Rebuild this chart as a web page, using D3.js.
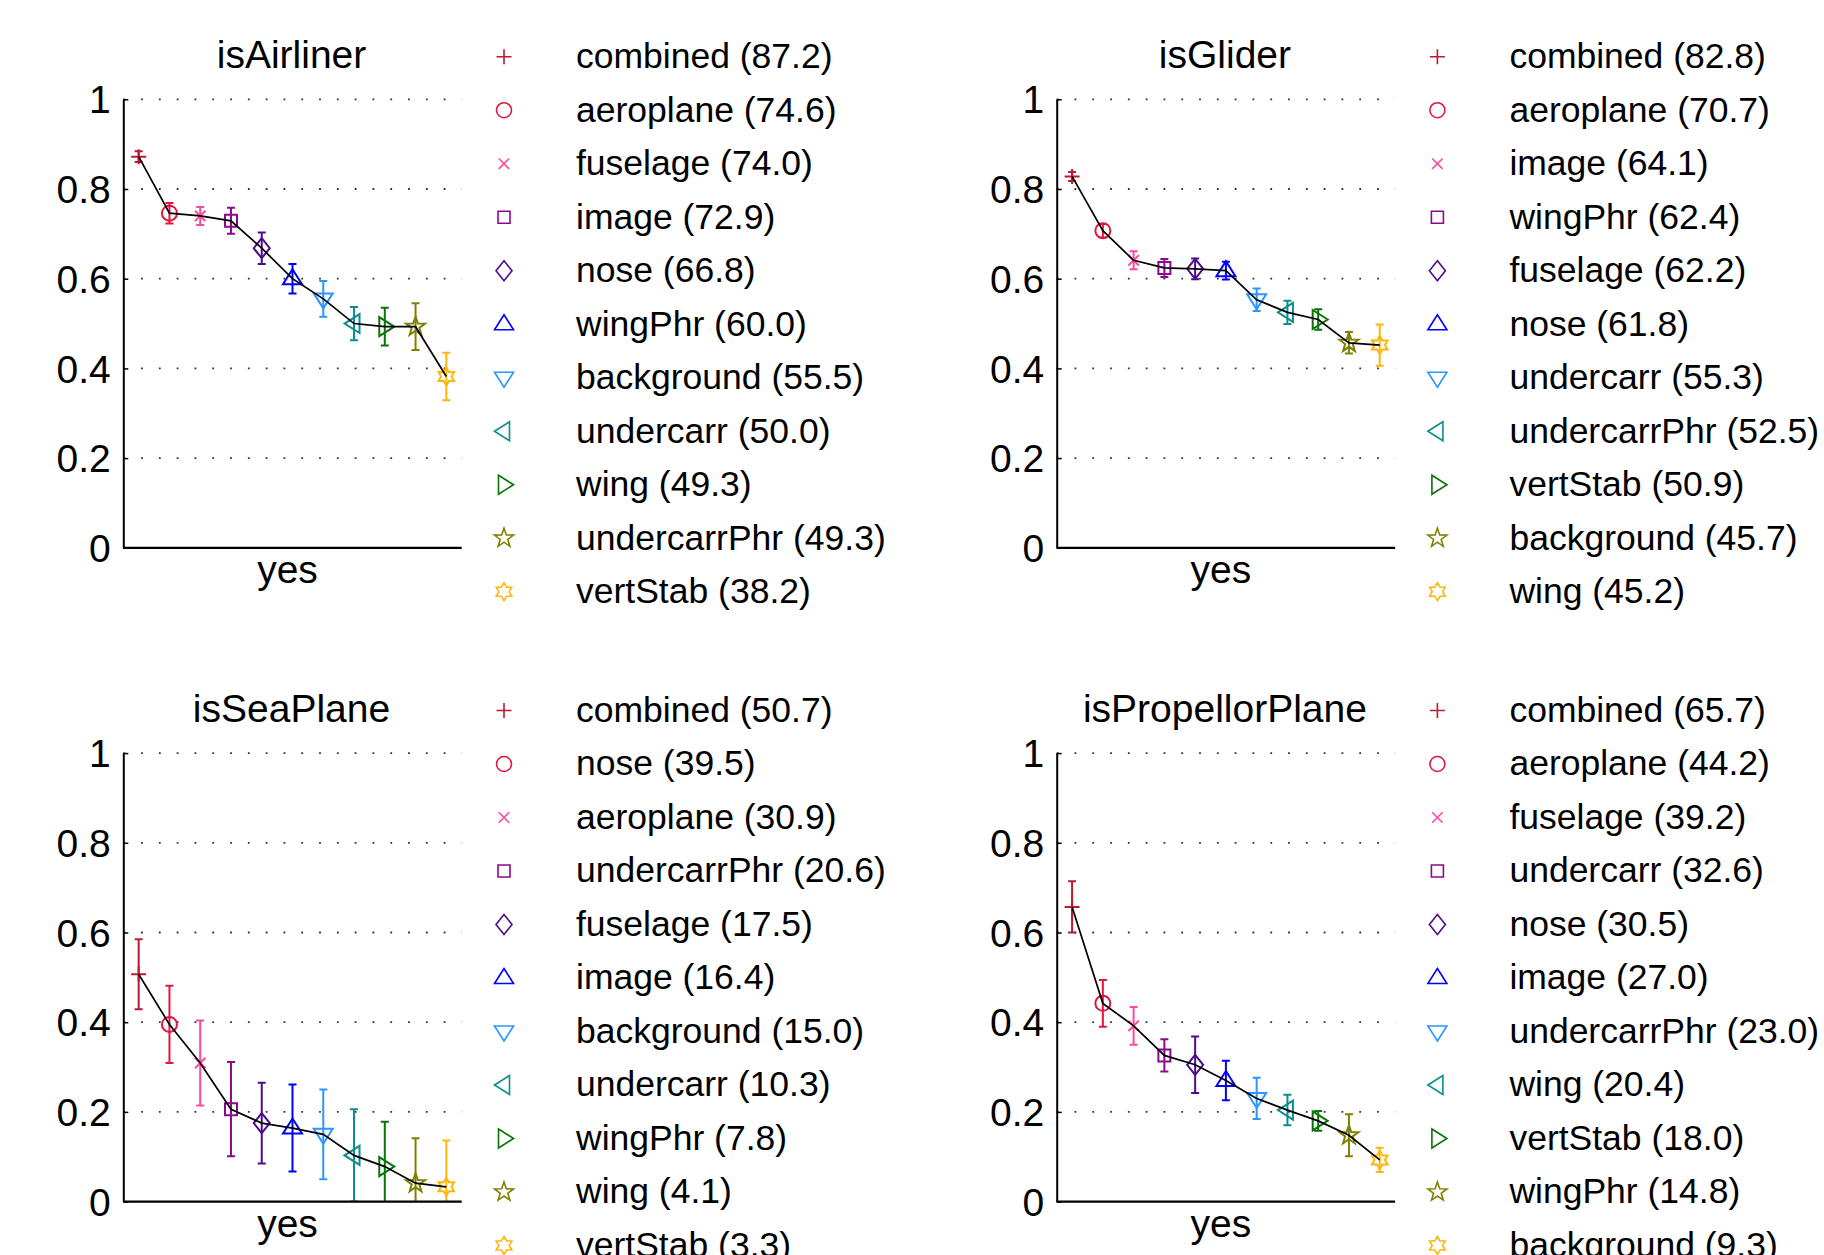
<!DOCTYPE html>
<html><head><meta charset="utf-8">
<script src="https://cdn.jsdelivr.net/npm/d3@7"></script>
<style>
body{margin:0;background:#fff}
text{font-family:"Liberation Sans",Arial,Helvetica,sans-serif;fill:#000}
</style>
</head><body>
<svg id="chart" width="1824" height="1255"></svg>
<script>
// ---------------- data ----------------
const panelTitles = ["isAirliner", "isGlider", "isSeaPlane", "isPropellorPlane"];

const airlinerParts  = ["combined","aeroplane","fuselage","image","nose","wingPhr","background","undercarr","wing","undercarrPhr","vertStab"];
const airlinerScores = [87.2, 74.6, 74.0, 72.9, 66.8, 60.0, 55.5, 50.0, 49.3, 49.3, 38.2];
const airlinerErrors = [1.2, 2.3, 2.0, 2.9, 3.5, 3.3, 4.0, 3.7, 4.2, 5.2, 5.3];

const gliderParts  = ["combined","aeroplane","image","wingPhr","fuselage","nose","undercarr","undercarrPhr","vertStab","background","wing"];
const gliderScores = [82.8, 70.7, 64.1, 62.4, 62.2, 61.8, 55.3, 52.5, 50.9, 45.7, 45.2];
const gliderErrors = [1.0, 1.5, 2.0, 2.0, 2.3, 2.0, 2.5, 2.6, 2.3, 2.4, 4.6];

const seaPlaneParts  = ["combined","nose","aeroplane","undercarrPhr","fuselage","image","background","undercarr","wingPhr","wing","vertStab"];
const seaPlaneScores = [50.7, 39.5, 30.9, 20.6, 17.5, 16.4, 15.0, 10.3, 7.8, 4.1, 3.3];
const seaPlaneErrors = [7.8, 8.6, 9.5, 10.5, 9.0, 9.7, 10.0, 10.3, 10.0, 10.0, 10.3];

const propellorParts  = ["combined","aeroplane","fuselage","undercarr","nose","image","undercarrPhr","wing","vertStab","wingPhr","background"];
const propellorScores = [65.7, 44.2, 39.2, 32.6, 30.5, 27.0, 23.0, 20.4, 18.0, 14.8, 9.3];
const propellorErrors = [5.7, 5.2, 4.2, 3.6, 6.3, 4.4, 4.6, 3.4, 2.2, 4.7, 2.7];

const yTickValues = [0, 0.2, 0.4, 0.6, 0.8, 1];
const yTickLabels = ["0", "0.2", "0.4", "0.6", "0.8", "1"];
const xTickLabel = "yes";

const seriesColors  = ["#bb1a30","#e0163f","#ff4a9c","#8d088d","#4e0c8c","#0000ff","#2a96ff","#0a8e8e","#0a740a","#808000","#ffb60c"];
const seriesMarkers = ["plus","circle","x","square","diamond","triUp","triDown","triLeft","triRight","pentagram","hexagram"];

// ---------------- layout ----------------
const W = 1824, H = 1255;
const plotW = 338.4, plotH = 448.5;
const colX = [123.3, 1056.7];
const rowTop = [99.3, 753.1];
const legendMarkerDX = 380.7, legendTextDX = 452.7;
const legendTopDY = -42.6, legendStep = 53.5;
const tickFont = 39, legendFont = 35.5;

const panels = [
  {title: panelTitles[0], parts: airlinerParts,  scores: airlinerScores,  errors: airlinerErrors,  col: 0, row: 0},
  {title: panelTitles[1], parts: gliderParts,    scores: gliderScores,    errors: gliderErrors,    col: 1, row: 0},
  {title: panelTitles[2], parts: seaPlaneParts,  scores: seaPlaneScores,  errors: seaPlaneErrors,  col: 0, row: 1},
  {title: panelTitles[3], parts: propellorParts, scores: propellorScores, errors: propellorErrors, col: 1, row: 1}
];

function star(n, R, r) {
  const pts = [];
  for (let k = 0; k < 2 * n; k++) {
    const a = -Math.PI / 2 + k * Math.PI / n;
    const rad = k % 2 === 0 ? R : r;
    pts.push([rad * Math.cos(a), rad * Math.sin(a)]);
  }
  return "M" + pts.map(p => p[0].toFixed(2) + "," + p[1].toFixed(2)).join("L") + "Z";
}
function markerPath(type) {
  switch (type) {
    case "plus": return "M-7.5,0H7.5M0,-7.5V7.5";
    case "circle": return "M7.5,0A7.5,7.5 0 1,1 -7.5,0A7.5,7.5 0 1,1 7.5,0Z";
    case "x": return "M-5.2,-5.2L5.2,5.2M-5.2,5.2L5.2,-5.2";
    case "square": return "M-6,-6H6V6H-6Z";
    case "diamond": return "M0,-10L8,0L0,10L-8,0Z";
    case "triUp": return "M0,-9.5L9.5,5.5L-9.5,5.5Z";
    case "triDown": return "M0,9.5L9.5,-5.5L-9.5,-5.5Z";
    case "triLeft": return "M-9.5,0L5.5,-9.5L5.5,9.5Z";
    case "triRight": return "M9.5,0L-5.5,-9.5L-5.5,9.5Z";
    case "pentagram": return star(5, 10, 4.0);
    case "hexagram": return star(6, 9, 5.2);
  }
}

const svg = d3.select("#chart");
svg.append("rect").attr("width", W).attr("height", H).attr("fill", "#fff");

panels.forEach((p, pi) => {
  const x0 = colX[p.col], yTop = rowTop[p.row];
  const x = d3.scaleLinear().domain([0.5, 11.5]).range([x0, x0 + plotW]);
  const y = d3.scaleLinear().domain([0, 1]).range([yTop + plotH, yTop]);
  const g = svg.append("g");

  const clipId = "clip" + pi;
  svg.append("clipPath").attr("id", clipId).append("rect")
    .attr("x", x0 - 20).attr("y", y(1) - 20).attr("width", plotW + 40).attr("height", plotH + 20);

  // grid
  g.append("g").selectAll("line").data(yTickValues.filter(v => v > 0)).join("line")
    .attr("x1", x0).attr("x2", x0 + plotW)
    .attr("y1", d => y(d)).attr("y2", d => y(d))
    .attr("stroke", "#333").attr("stroke-width", 1.8)
    .attr("stroke-dasharray", "1.8 16");

  const data = p.scores.map((s, i) => ({i: i + 1, v: s / 100, e: p.errors[i] / 100, name: p.parts[i], score: s,
    color: seriesColors[i], marker: seriesMarkers[i]}));

  const plot = g.append("g").attr("clip-path", `url(#${clipId})`);
  // error bars
  const eb = plot.append("g").selectAll("g").data(data).join("g")
    .attr("stroke", d => d.color).attr("stroke-width", 2).attr("fill", "none");
  eb.append("line").attr("x1", d => x(d.i)).attr("x2", d => x(d.i))
    .attr("y1", d => y(d.v - d.e)).attr("y2", d => y(d.v + d.e));
  eb.append("line").attr("x1", d => x(d.i) - 4).attr("x2", d => x(d.i) + 4)
    .attr("y1", d => y(d.v - d.e)).attr("y2", d => y(d.v - d.e));
  eb.append("line").attr("x1", d => x(d.i) - 4).attr("x2", d => x(d.i) + 4)
    .attr("y1", d => y(d.v + d.e)).attr("y2", d => y(d.v + d.e));
  // markers
  plot.append("g").selectAll("path").data(data).join("path")
    .attr("transform", d => `translate(${x(d.i)},${y(d.v)})`)
    .attr("d", d => markerPath(d.marker))
    .attr("fill", "none").attr("stroke", d => d.color).attr("stroke-width", 2);
  // connecting line
  plot.append("path").datum(data)
    .attr("d", d3.line().x(d => x(d.i)).y(d => y(d.v)))
    .attr("fill", "none").attr("stroke", "#000").attr("stroke-width", 1.7);

  // y axis
  const yAxis = d3.axisLeft(y).tickValues(yTickValues)
    .tickFormat((d, i) => yTickLabels[i]).tickSizeInner(-5).tickSizeOuter(0).tickPadding(12.5);
  const ya = g.append("g").attr("transform", `translate(${x0},0)`).call(yAxis);
  ya.select(".domain").attr("stroke", "#000").attr("stroke-width", 2);
  ya.selectAll(".tick line").attr("stroke", "#000").attr("stroke-width", 1.5);
  ya.selectAll(".tick text").attr("font-size", tickFont).attr("dy", "0.35em")
    .attr("font-family", "'Liberation Sans',Arial,Helvetica,sans-serif");

  // x axis
  g.append("line").attr("x1", x0).attr("x2", x0 + plotW).attr("y1", y(0)).attr("y2", y(0))
    .attr("stroke", "#000").attr("stroke-width", 2.2);
  g.append("text").attr("x", x(6) - 5).attr("y", y(0) + 35.5)
    .attr("text-anchor", "middle").attr("font-size", tickFont).text(xTickLabel);

  // title
  g.append("text").attr("x", x(6) - 1).attr("y", y(1) - 31)
    .attr("text-anchor", "middle").attr("font-size", tickFont).text(p.title);

  // legend
  const lg = g.append("g").selectAll("g").data(data).join("g")
    .attr("transform", d => `translate(${x0 + legendMarkerDX},${yTop + legendTopDY + (d.i - 1) * legendStep})`);
  lg.append("path").attr("d", d => markerPath(d.marker))
    .attr("fill", "none").attr("stroke", d => d.color).attr("stroke-width", 1.6);
  lg.append("text").attr("x", legendTextDX - legendMarkerDX).attr("y", 11.3)
    .attr("font-size", legendFont).text(d => `${d.name} (${d.score.toFixed(1)})`);
});
</script>
</body></html>
